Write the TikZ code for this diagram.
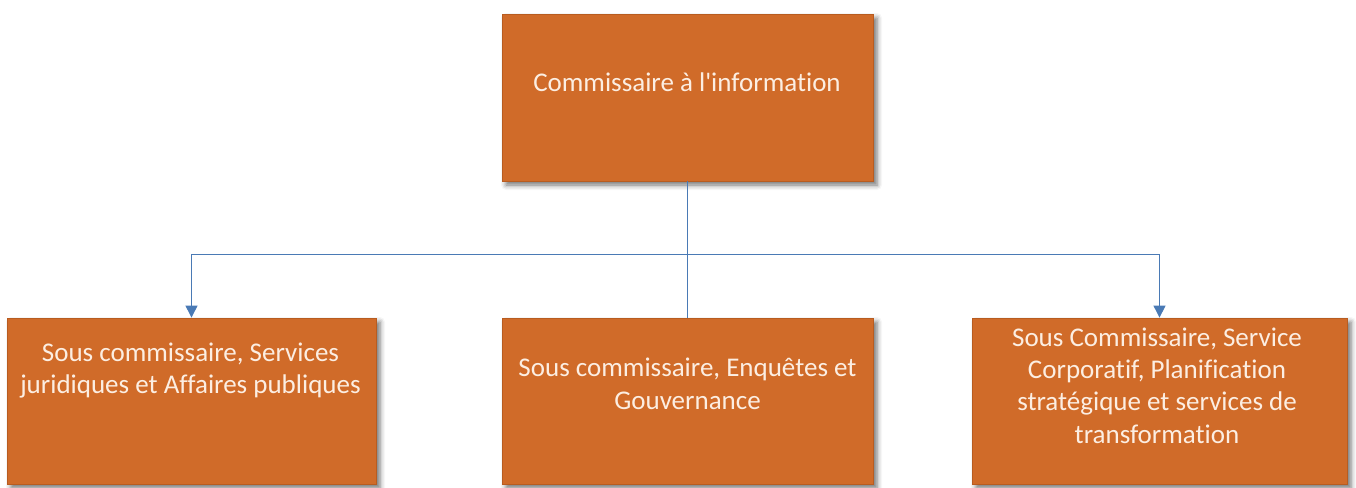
\documentclass[tikz,border=0pt]{standalone}
\usepackage{fontspec}
\setmainfont{Carlito}[Ligatures={NoCommon}]
\usetikzlibrary{shadows.blur,arrows.meta}
\definecolor{boxfill}{HTML}{D06B29}
\definecolor{boxedge}{HTML}{B85C20}
\definecolor{boxtext}{HTML}{FCEEE2}
\definecolor{linkblue}{HTML}{4A7AB5}
\tikzset{
  orgbox/.style={draw=boxedge, line width=0.8pt, fill=boxfill, inner sep=0pt,
    blur shadow={shadow xshift=4pt, shadow yshift=-4pt, shadow blur radius=5pt, shadow opacity=55}},
  orgtext/.style={text=boxtext, align=center, anchor=north, inner sep=0pt,
    font=\fontsize{27}{32.3}\selectfont},
  link/.style={draw=linkblue, line width=1pt},
  linkarrow/.style={link, -{Triangle[length=12pt,width=12pt]}}
}
\begin{document}
\begin{tikzpicture}[x=1pt,y=-1pt]
\useasboundingbox (0,0) rectangle (1356,487);
\node[orgbox, minimum width=371pt, minimum height=167pt] (top) at (687.5,97.5) {};
\node[orgbox, minimum width=369pt, minimum height=166pt] (left) at (191.5,401) {};
\node[orgbox, minimum width=371pt, minimum height=166pt] (mid) at (687.5,401) {};
\node[orgbox, minimum width=375pt, minimum height=166pt] (right) at (1159.5,401) {};
\coordinate (bus) at (687.5,254);
\draw[link] (top.south) -- (mid.north);
\draw[linkarrow] (bus) -| (left.north);
\draw[linkarrow] (bus) -| (right.north);
\node[orgtext] (ttop) at (687,72.5) {Commissaire à l\textquotesingle information};
\node[orgtext] (tleft) at (190.5,342.5) {Sous commissaire, Services\\juridiques et Affaires publiques};
\node[orgtext] (tmid) at (687.5,358) {Sous commissaire, Enquêtes et\\Gouvernance};
\node[orgtext] (tright) at (1157,327.5) {Sous Commissaire, Service\\Corporatif, Planification\\stratégique et services de\\transformation};
\end{tikzpicture}
\end{document}
